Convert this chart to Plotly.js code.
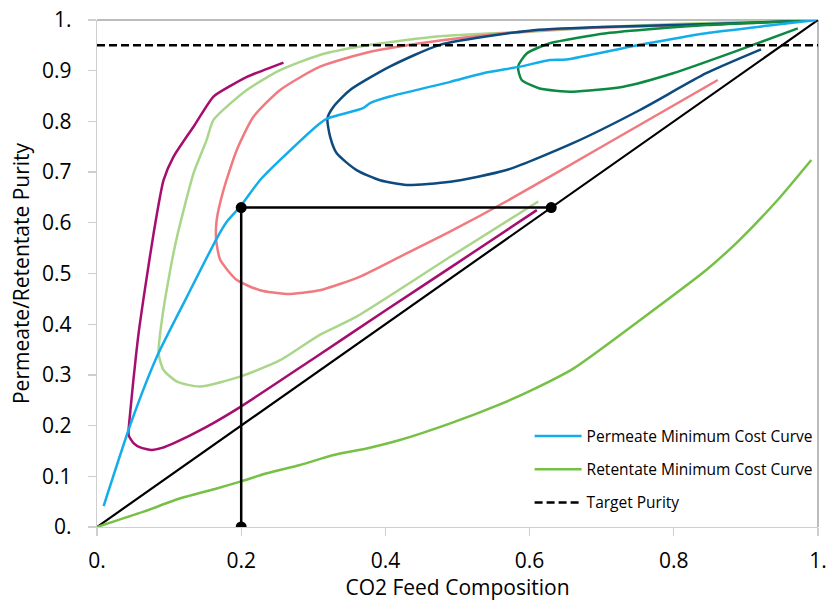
<!DOCTYPE html>
<html>
<head>
<meta charset="utf-8">
<script src="https://cdn.plot.ly/plotly-3.0.1.min.js"></script>
<style>html,body{margin:0;padding:0;background:#fff;}#chart{width:826px;height:601px;}</style>
</head>
<body>
<div id="chart"></div>
<script>
// ---- data ----
const tickVals = [0, 0.2, 0.4, 0.6, 0.8, 1];
const tickText = ["0.", "0.2", "0.4", "0.6", "0.8", "1."];
const yTickVals = [0, 0.1, 0.2, 0.3, 0.4, 0.5, 0.6, 0.7, 0.8, 0.9, 1];
const yTickText = ["0.", "0.1", "0.2", "0.3", "0.4", "0.5", "0.6", "0.7", "0.8", "0.9", "1."];

const permeateX = [0.0092,0.0485,0.083,0.1247,0.166,0.18,0.1986,0.226,0.254,0.309,0.3196,0.369,0.3787,0.406,0.49,0.5357,0.5865,0.628,0.651,0.753,0.845,0.9375,0.9977];
const permeateY = [0.0414,0.211,0.336,0.454,0.569,0.602,0.632,0.684,0.724,0.796,0.806,0.826,0.836,0.849,0.878,0.895,0.908,0.921,0.922,0.951,0.974,0.99,1.0];

const retentateX = [0,0.0646,0.1154,0.166,0.1986,0.2355,0.2817,0.328,0.374,0.42,0.49,0.5588,0.6,0.66,0.753,0.845,0.891,0.944,0.9907];
const retentateY = [0,0.0302,0.0566,0.076,0.0894,0.1059,0.1223,0.142,0.155,0.1716,0.2045,0.242,0.268,0.312,0.408,0.507,0.566,0.645,0.724];

const targetX = [0, 1];
const targetY = [0.95, 0.95];

const diagX = [0, 1];
const diagY = [0, 1];

const constructX = [0.2, 0.2, 0.63];
const constructY = [0, 0.63, 0.63];

const magentaX = [0.2586,0.235,0.208,0.185,0.1616,0.135,0.106,0.0923,0.0785,0.067,0.0575,0.0505,0.046,0.044,0.051,0.060,0.076,0.090,0.106,0.150,0.199,0.300,0.400,0.500,0.610];
const magentaY = [0.916,0.903,0.888,0.870,0.849,0.792,0.730,0.684,0.579,0.474,0.380,0.290,0.225,0.181,0.165,0.157,0.152,0.156,0.165,0.196,0.237,0.332,0.427,0.521,0.625];

const lightGreenX = [0.99,0.9,0.8,0.7,0.6,0.476,0.379,0.309,0.254,0.2078,0.1616,0.152,0.134,0.111,0.1016,0.09,0.0854,0.0923,0.111,0.143,0.1986,0.254,0.309,0.36,0.49,0.612];
const lightGreenY = [0.999,0.996,0.992,0.986,0.977,0.968,0.951,0.931,0.901,0.862,0.803,0.763,0.698,0.5726,0.507,0.408,0.3426,0.3097,0.2866,0.277,0.2965,0.329,0.379,0.415,0.533,0.642];

const pinkX = [0.99,0.85,0.7,0.6,0.49,0.43,0.379,0.3094,0.254,0.217,0.194,0.1755,0.166,0.1653,0.1709,0.194,0.226,0.263,0.309,0.365,0.42,0.4895,0.575,0.7,0.861];
const pinkY = [0.999,0.991,0.985,0.978,0.962,0.95,0.9375,0.908,0.862,0.809,0.744,0.665,0.6055,0.566,0.527,0.487,0.467,0.4596,0.467,0.494,0.533,0.5825,0.648,0.75,0.8817];

const darkBlueX = [0.99,0.85,0.7,0.6,0.4757,0.406,0.351,0.328,0.3196,0.3233,0.3325,0.36,0.3926,0.4295,0.49,0.568,0.66,0.753,0.845,0.921];
const darkBlueY = [0.999,0.992,0.986,0.979,0.951,0.908,0.862,0.829,0.806,0.77,0.737,0.704,0.684,0.6746,0.681,0.704,0.757,0.8225,0.895,0.942];

const darkGreenX = [0.99,0.845,0.7066,0.628,0.596,0.584,0.589,0.614,0.66,0.73,0.799,0.891,0.972];
const darkGreenY = [0.999,0.99,0.9737,0.954,0.934,0.908,0.8817,0.865,0.8586,0.8685,0.895,0.941,0.9836];

// ---- traces ----
const W = 2.5;
const FONT = '"Open Sans", "Noto Sans", sans-serif';
function curve(x, y, color, extra) {
  return Object.assign({x: x, y: y, type: 'scatter', mode: 'lines', line: {color: color, width: W, shape: 'spline', smoothing: 0.6}, showlegend: false, hoverinfo: 'skip'}, extra || {});
}
const traces = [
  curve(diagX, diagY, '#000000', {line: {color: '#000000', width: 2.2}}),
  curve(retentateX, retentateY, '#77C046', {name: 'Retentate Minimum Cost Curve', showlegend: true, legendgroup: 'b', legendrank: 2}),
  curve(magentaX, magentaY, '#A50D6E'),
  curve(lightGreenX, lightGreenY, '#A9D68A'),
  curve(pinkX, pinkY, '#F07A80'),
  curve(darkBlueX, darkBlueY, '#0D4A7E'),
  curve(darkGreenX, darkGreenY, '#0C8A42'),
  curve(permeateX, permeateY, '#14ADEB', {name: 'Permeate Minimum Cost Curve', showlegend: true, legendgroup: 'a', legendrank: 1}),
  {x: targetX, y: targetY, type: 'scatter', mode: 'lines', name: 'Target Purity', showlegend: true, legendgroup: 'c', legendrank: 3,
   line: {color: '#000000', width: 2.5, dash: '8px,4px'}, hoverinfo: 'skip'},
  {x: constructX, y: constructY, type: 'scatter', mode: 'lines+markers', showlegend: false, hoverinfo: 'skip',
   line: {color: '#000000', width: 2.5}, marker: {color: '#000000', size: 11}},
];

const axisCommon = {
  range: [0, 1], showgrid: false, zeroline: false, showline: true, linecolor: '#CFCFCF', linewidth: 1.3,
  ticks: 'outside', ticklen: 8, tickcolor: '#CFCFCF', tickwidth: 1.3, ticklabeloverflow: 'allow',
  tickfont: {family: FONT, size: 21, color: '#000000'}, fixedrange: true
};
const layout = {
  width: 826, height: 601,
  margin: {l: 97, r: 8, t: 20, b: 74},
  paper_bgcolor: '#ffffff', plot_bgcolor: '#ffffff',
  font: {family: FONT, color: '#000000'},
  xaxis: Object.assign({}, axisCommon, {tickvals: tickVals, ticktext: tickText, ticklabelstandoff: 6,
    title: {text: 'CO2 Feed Composition', font: {family: FONT, size: 21, color: '#000000'}, standoff: 6}}),
  yaxis: Object.assign({}, axisCommon, {tickvals: yTickVals, ticktext: yTickText, ticklabelstandoff: 12,
    title: {text: 'Permeate/Retentate Purity', font: {family: FONT, size: 21, color: '#000000'}, standoff: 6}}),
  shapes: [
    {type: 'line', xref: 'paper', yref: 'paper', x0: 0, x1: 1, y0: 1, y1: 1, line: {color: '#A6A6A6', width: 1.5}, layer: 'below'},
    {type: 'line', xref: 'paper', yref: 'paper', x0: 1, x1: 1, y0: 0, y1: 1, line: {color: '#A6A6A6', width: 1.5}, layer: 'below'}
  ],
  legend: {x: 0.6, y: 0.212, xanchor: 'left', yanchor: 'top', bgcolor: 'rgba(0,0,0,0)', itemwidth: 47,
    font: {family: FONT, size: 15.5, color: '#000000'}, traceorder: 'grouped', tracegroupgap: 10},
  showlegend: true
};
Plotly.newPlot('chart', traces, layout, {displayModeBar: false, staticPlot: true});
</script>
</body>
</html>
